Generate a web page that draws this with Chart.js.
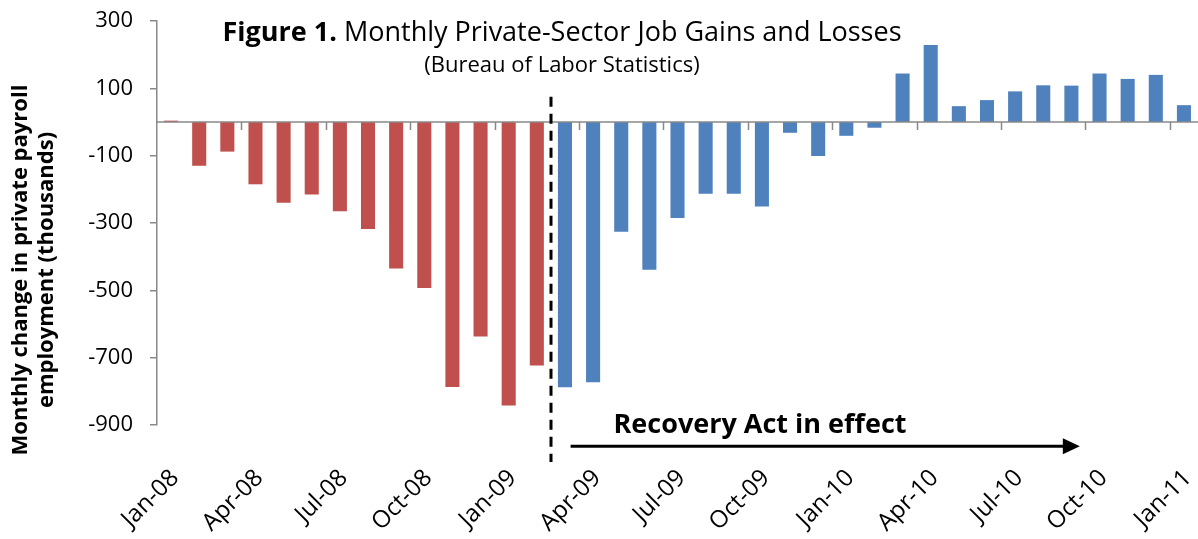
<!DOCTYPE html>
<html>
<head>
<meta charset="utf-8">
<script src="https://cdn.jsdelivr.net/npm/chart.js@4.4.0/dist/chart.umd.min.js"></script>
<style>
  html, body { margin: 0; padding: 0; background: #fff; }
  #wrap { width: 1198px; height: 539px; }
</style>
</head>
<body>
<div id="wrap"><canvas id="jobsChart"></canvas></div>
<script>
// monthly change in private payroll employment, thousands
var months = [
  'Jan-08', 'Feb-08', 'Mar-08', 'Apr-08', 'May-08', 'Jun-08', 'Jul-08', 'Aug-08', 'Sep-08', 'Oct-08', 'Nov-08', 'Dec-08',
  'Jan-09', 'Feb-09', 'Mar-09', 'Apr-09', 'May-09', 'Jun-09', 'Jul-09', 'Aug-09', 'Sep-09', 'Oct-09', 'Nov-09', 'Dec-09',
  'Jan-10', 'Feb-10', 'Mar-10', 'Apr-10', 'May-10', 'Jun-10', 'Jul-10', 'Aug-10', 'Sep-10', 'Oct-10', 'Nov-10', 'Dec-10',
  'Jan-11'
];
var jobChange = [
  4, -130, -88, -185, -240, -215, -265, -318, -435, -493, -787, -637,
  -842, -723, -788, -773, -326, -439, -285, -213, -213, -251, -32, -101,
  -41, -17, 144, 229, 47, 65, 91, 109, 108, 144, 128, 140,
  50
];
var actStart = 'Mar-09';
var yMin = -900, yMax = 300, yStep = 200;

var red = '#C0504D';
var blue = '#4F81BD';
var axisGrey = '#898989';
var font = "'Open Sans', sans-serif";

var startIdx = months.indexOf(actStart);
var barColors = months.map(function (m, i) { return i < startIdx ? red : blue; });

var annotations = {
  id: 'annotations',
  afterDatasetsDraw: function (chart) {
    var ctx = chart.ctx, x = chart.scales.x, y = chart.scales.y, area = chart.chartArea;
    ctx.save();

    // horizontal axis at zero with tick marks every third month
    var y0 = y.getPixelForValue(0);
    ctx.strokeStyle = axisGrey;
    ctx.lineWidth = 1.5;
    ctx.beginPath();
    ctx.moveTo(area.left, y0);
    ctx.lineTo(area.right, y0);
    for (var i = 3; i < months.length; i += 3) {
      var px = Math.round(x.getPixelForValue(i - 0.5)) + 0.5;
      ctx.moveTo(px, y0);
      ctx.lineTo(px, y0 + 8);
    }
    ctx.stroke();

    // dashed divider where the Recovery Act starts
    var dx = Math.round(x.getPixelForValue(startIdx - 0.5));
    ctx.strokeStyle = '#000';
    ctx.lineWidth = 3;
    ctx.setLineDash([10, 7]);
    ctx.beginPath();
    ctx.moveTo(dx, y.getPixelForValue(75));
    ctx.lineTo(dx, y.getPixelForValue(-1010));
    ctx.stroke();
    ctx.setLineDash([]);

    // arrow + label
    var ay = y.getPixelForValue(-963);
    var ax0 = x.getPixelForValue(startIdx + 0.2);
    var ax1 = x.getPixelForValue(32.3);
    ctx.lineWidth = 3;
    ctx.beginPath();
    ctx.moveTo(ax0, ay);
    ctx.lineTo(ax1 - 14, ay);
    ctx.stroke();
    ctx.fillStyle = '#000';
    ctx.beginPath();
    ctx.moveTo(ax1, ay);
    ctx.lineTo(ax1 - 17, ay - 8);
    ctx.lineTo(ax1 - 17, ay + 8);
    ctx.closePath();
    ctx.fill();

    ctx.font = 'bold 27px ' + font;
    ctx.textAlign = 'center';
    ctx.textBaseline = 'alphabetic';
    ctx.fillText('Recovery Act in effect', 760, 433);
    ctx.restore();
  },
  afterDraw: function (chart) {
    var ctx = chart.ctx;
    ctx.save();
    ctx.fillStyle = '#000';
    ctx.textBaseline = 'alphabetic';

    // title, bold lead-in then regular text
    var lead = 'Figure 1.', rest = ' Monthly Private-Sector Job Gains and Losses';
    ctx.font = 'bold 27px ' + font;
    var w1 = ctx.measureText(lead).width;
    ctx.font = '27px ' + font;
    var w2 = ctx.measureText(rest).width;
    var tx = 562 - (w1 + w2) / 2;
    ctx.textAlign = 'left';
    ctx.font = 'bold 27px ' + font;
    ctx.fillText(lead, tx, 41);
    ctx.font = '27px ' + font;
    ctx.fillText(rest, tx + w1, 41);

    ctx.font = '22px ' + font;
    ctx.textAlign = 'center';
    ctx.fillText('(Bureau of Labor Statistics)', 562, 72);

    // y axis title, two lines rotated
    ctx.translate(0, 270);
    ctx.rotate(-Math.PI / 2);
    ctx.font = 'bold 22px ' + font;
    ctx.textBaseline = 'middle';
    ctx.fillText('Monthly change in private payroll', 0, 21);
    ctx.fillText('employment (thousands)', 0, 47);
    ctx.restore();
  }
};

new Chart(document.getElementById('jobsChart'), {
  type: 'bar',
  data: {
    labels: months,
    datasets: [{
      label: 'Private payroll change',
      data: jobChange,
      backgroundColor: barColors,
      borderWidth: 0,
      barPercentage: 0.5,
      categoryPercentage: 1.0
    }]
  },
  options: {
    responsive: true,
    maintainAspectRatio: false,
    animation: false,
    layout: { padding: { top: 21, right: 0, bottom: 0, left: 0 } },
    plugins: {
      legend: { display: false },
      title: { display: false },
      tooltip: { enabled: false }
    },
    scales: {
      x: {
        grid: { display: false },
        border: { display: false },
        ticks: {
          autoSkip: false,
          minRotation: 45,
          maxRotation: 45,
          padding: 31,
          labelOffset: 4,
          color: '#000',
          font: { family: font, size: 24 },
          callback: function (v, i) { return i % 3 === 0 ? months[i] : ''; }
        },
        afterFit: function (s) { s.height = 114; s.paddingLeft = 0; s.paddingRight = 0; }
      },
      y: {
        min: yMin,
        max: yMax,
        grid: { drawOnChartArea: false, drawTicks: true, tickLength: 7, color: axisGrey, lineWidth: 1.5 },
        border: { color: axisGrey, width: 1.5 },
        ticks: {
          stepSize: yStep,
          padding: 17,
          color: '#000',
          font: { family: font, size: 22 }
        },
        afterFit: function (s) { s.width = 157; s.paddingTop = 0; s.paddingBottom = 0; }
      }
    }
  },
  plugins: [annotations]
});
</script>
</body>
</html>
